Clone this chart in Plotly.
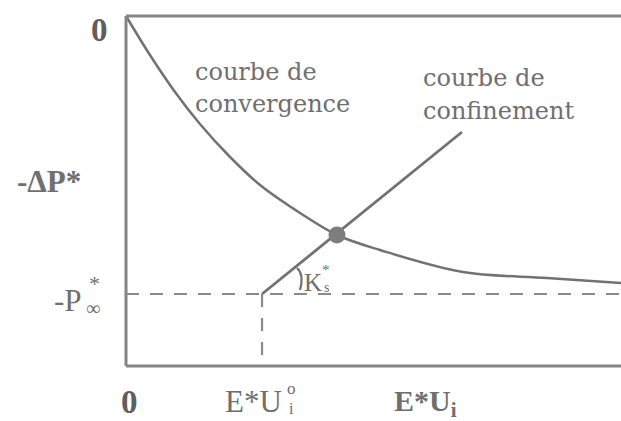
import plotly.graph_objects as go

# Convergence curve (-ΔP* against E*Ui), normalised units
conv_x = [0.0, 0.242, 0.495, 0.747, 1.051, 1.354, 1.758, 2.131, 2.566, 3.404, 4.253, 5.0]
conv_y = [0.0, -0.39, -0.76, -1.08, -1.41, -1.69, -1.97, -2.19, -2.34, -2.56, -2.62, -2.67]

# Confinement line: starts at (E*Ui°, -P∞*) and rises with slope Ks*
p_inf = 2.78
u_i0 = 1.374
conf_x = [u_i0, 3.394]
conf_y = [-p_inf, -1.16]

# Equilibrium point
eq_x = [2.131]
eq_y = [-2.19]

x_max = 5.0
y_min = -3.5

GREY = "#727272"
TEXT = "#6f6f6f"
SERIF = "DejaVu Serif"
TIMES = "Liberation Serif"

fig = go.Figure()

fig.add_trace(go.Scatter(x=conv_x, y=conv_y, mode="lines",
                         line=dict(color=GREY, width=2.5, shape="spline", smoothing=1.0),
                         hoverinfo="skip"))
fig.add_trace(go.Scatter(x=conf_x, y=conf_y, mode="lines",
                         line=dict(color=GREY, width=2.8),
                         hoverinfo="skip"))
fig.add_trace(go.Scatter(x=eq_x, y=eq_y, mode="markers",
                         marker=dict(color="#7d7d7d", size=17),
                         hoverinfo="skip"))

# frame: top, left, bottom
frame = dict(color="#858585", width=3)
fig.add_shape(type="line", x0=0, x1=x_max, y0=0, y1=0, line=frame)
fig.add_shape(type="line", x0=0, x1=0, y0=0, y1=y_min, line=frame)
fig.add_shape(type="line", x0=0, x1=x_max, y0=y_min, y1=y_min, line=frame)

# dashed guides at -P∞* and E*Ui°
dash = dict(color="#8a8a8a", width=2.2, dash="13px,11px")
fig.add_shape(type="line", x0=0, x1=x_max, y0=-p_inf, y1=-p_inf, line=dash)
fig.add_shape(type="line", x0=u_i0, x1=u_i0, y0=-p_inf, y1=y_min, line=dash)

# angle mark for Ks*
fig.add_shape(type="path", path="M 1.727,-2.52 Q 1.80,-2.58 1.758,-2.74",
              line=dict(color=GREY, width=2.2))


def txt(x, y, s, size, font=SERIF, bold=False, xanchor="center", color=TEXT):
    if bold:
        s = "<b>" + s + "</b>"
    fig.add_annotation(x=x, y=y, text=s, showarrow=False, xanchor=xanchor,
                       yanchor="middle", font=dict(family=font, size=size, color=color))


def px(u):
    return (u - 126) / 99.0


def py(v):
    return -(v - 16) / 100.0


txt(px(193), py(72), "courbe de", 24, xanchor="left")
txt(px(193), py(104), "convergence", 24, xanchor="left")
txt(px(421), py(78), "courbe de", 24, xanchor="left")
txt(px(421), py(111), "confinement", 24, xanchor="left")

txt(px(99), py(30), "0", 33, font=TIMES, bold=True, color="#5e5e5e")
txt(px(129), py(402), "0", 33, font=TIMES, bold=True, color="#5e5e5e")
txt(px(49), py(181), "-ΔP*", 31, font=TIMES, bold=True)

# -P∞* with stacked super/subscript
txt(px(52), py(300), "-P", 31, font=TIMES, xanchor="left")
txt(px(94), py(283), "*", 22, font=TIMES)
txt(px(93), py(308), "∞", 20, font=TIMES)

# E*Ui° with stacked super/subscript
txt(px(223), py(401), "E*U", 31, font=TIMES, xanchor="left")
txt(px(291), py(388), "o", 17, font=TIMES)
txt(px(291), py(408), "i", 16, font=TIMES)

txt(px(392), py(403), "E*U<sub>i</sub>", 30, font=TIMES, bold=True, xanchor="left")

# Ks*
txt(px(302), py(282), "K", 25, font=TIMES, xanchor="left")
txt(px(326), py(270), "*", 15, font=TIMES)
txt(px(326), py(287), "s", 14, font=TIMES)

fig.update_layout(
    width=621, height=421,
    margin=dict(l=0, r=0, t=0, b=0),
    paper_bgcolor="white", plot_bgcolor="white",
    showlegend=False,
    xaxis=dict(range=[px(0), px(621)], visible=False, fixedrange=True),
    yaxis=dict(range=[py(421), py(0)], visible=False, fixedrange=True),
)

fig.write_html("out.html")
